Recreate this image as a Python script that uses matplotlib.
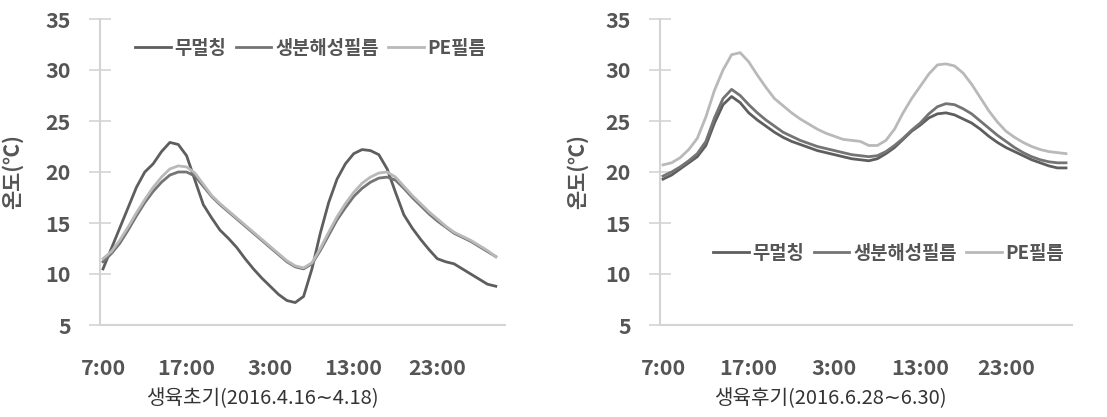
import numpy as np
import matplotlib
matplotlib.use('Agg')
import matplotlib.pyplot as plt

# --- Configuration ---
plt.rcParams['font.family'] = ['Noto Sans CJK KR', 'DejaVu Sans']

# --- Data (hourly, 48 h starting 7:00) ---
tick_labels = ['7:00', '17:00', '3:00', '13:00', '23:00']
series_names = ['무멀칭', '생분해성필름', 'PE필름']

early_bare = [10.5, 12.5, 14.5, 16.5, 18.5, 20.0, 20.8, 22.0, 22.9, 22.7,
              21.6, 19.2, 16.8, 15.5, 14.3, 13.5, 12.6, 11.5, 10.5, 9.6,
              8.8, 8.0, 7.4, 7.2, 7.8, 10.5, 14.0, 17.0, 19.3, 20.8,
              21.8, 22.2, 22.1, 21.7, 20.3, 18.0, 15.8, 14.5, 13.4, 12.4,
              11.5, 11.2, 11.0, 10.5, 10.0, 9.5, 9.0, 8.8]
early_bio = [11.2, 12.0, 13.0, 14.3, 15.7, 17.0, 18.1, 19.0, 19.7, 20.0,
             20.0, 19.6, 18.6, 17.6, 16.8, 16.1, 15.4, 14.7, 14.0, 13.3,
             12.6, 11.9, 11.2, 10.7, 10.5, 11.0, 12.3, 13.8, 15.3, 16.5,
             17.6, 18.4, 19.0, 19.4, 19.5, 19.2, 18.4, 17.5, 16.7, 15.9,
             15.2, 14.6, 14.0, 13.6, 13.2, 12.7, 12.2, 11.7]
early_pe = [11.5, 12.2, 13.3, 14.6, 16.0, 17.3, 18.5, 19.5, 20.3, 20.6,
            20.5, 19.9, 18.8, 17.7, 16.9, 16.2, 15.5, 14.8, 14.1, 13.4,
            12.7, 12.0, 11.3, 10.8, 10.6, 11.1, 12.5, 14.1, 15.6, 16.9,
            18.0, 18.9, 19.5, 19.9, 20.0, 19.5, 18.6, 17.7, 16.9, 16.1,
            15.4, 14.7, 14.1, 13.7, 13.3, 12.8, 12.3, 11.7]

late_bare = [19.3, 19.7, 20.3, 20.9, 21.5, 22.6, 24.8, 26.6, 27.4, 26.8,
             25.8, 25.1, 24.5, 23.9, 23.4, 23.0, 22.7, 22.4, 22.1, 21.9,
             21.7, 21.5, 21.3, 21.2, 21.1, 21.3, 21.8, 22.4, 23.2, 24.0,
             24.6, 25.3, 25.7, 25.8, 25.6, 25.2, 24.8, 24.2, 23.5, 22.9,
             22.4, 22.0, 21.6, 21.2, 20.9, 20.6, 20.4, 20.4]
late_bio = [19.6, 20.0, 20.5, 21.1, 21.8, 23.0, 25.3, 27.2, 28.1, 27.5,
            26.6, 25.8, 25.1, 24.5, 23.9, 23.5, 23.1, 22.8, 22.5, 22.3,
            22.1, 21.9, 21.7, 21.6, 21.5, 21.6, 22.0, 22.6, 23.3, 24.1,
            24.8, 25.7, 26.4, 26.7, 26.6, 26.2, 25.7, 25.0, 24.3, 23.6,
            23.0, 22.4, 21.9, 21.5, 21.2, 21.0, 20.9, 20.9]
late_pe = [20.7, 20.9, 21.4, 22.2, 23.3, 25.4, 28.0, 30.0, 31.5, 31.7,
           30.8, 29.5, 28.3, 27.2, 26.5, 25.8, 25.2, 24.7, 24.2, 23.8,
           23.5, 23.2, 23.1, 23.0, 22.6, 22.6, 23.1, 24.2, 25.8, 27.2,
           28.4, 29.6, 30.5, 30.6, 30.4, 29.7, 28.6, 27.3, 26.0, 24.9,
           24.0, 23.4, 22.9, 22.5, 22.2, 22.0, 21.9, 21.8]

colors = ['#5e5e5e', '#747474', '#b9b9b9']
text_col = '#555555'
axis_col = '#d4d4d4'

fig = plt.figure(figsize=(11.07, 4.17), dpi=100)
ax1 = fig.add_axes([100 / 1107, 92 / 417, 405 / 1107, 306 / 417])
ax2 = fig.add_axes([660 / 1107, 92 / 417, 412 / 1107, 306 / 417])

panels = [
    (ax1, [early_bare, early_bio, early_pe], '생육초기(2016.4.16∼4.18)', 0.40,
     (0.52, 0.905), (-0.36, 48.1), -0.19),
    (ax2, [late_bare, late_bio, late_pe], '생육후기(2016.6.28∼6.30)', 0.413,
     (0.555, 0.235), (-0.35, 47.7), -0.175),
]

for ax, data, xlabel, xl_pos, leg_pos, xlim, yl_pos in panels:
    hours = np.arange(len(data[0]))
    for vals, name, c in zip(data, series_names, colors):
        ax.plot(hours, vals, color=c, lw=2.0, label=name)

    ax.set_xlim(*xlim)
    ax.set_ylim(5, 35)
    ax.set_yticks(np.arange(5, 36, 5))
    ax.set_xticks(np.arange(0, 41, 10))
    ax.set_xticklabels(tick_labels)

    for side in ['top', 'right']:
        ax.spines[side].set_visible(False)
    for side in ['left', 'bottom']:
        ax.spines[side].set_color(axis_col)
        ax.spines[side].set_linewidth(1.5)

    ax.tick_params(axis='y', direction='inout', length=16, width=1.2,
                   color=axis_col, labelcolor=text_col, labelsize=15.5, pad=13)
    ax.tick_params(axis='x', length=0, labelcolor=text_col, labelsize=15.5, pad=24)
    for lab in ax.get_xticklabels() + ax.get_yticklabels():
        lab.set_fontweight('bold')

    ax.set_ylabel('온도(℃)', fontsize=15, color=text_col, fontweight='bold')
    ax.yaxis.set_label_coords(yl_pos, 0.5)
    ax.set_xlabel(xlabel, fontsize=14.5, color='#333333', x=xl_pos)
    ax.xaxis.set_label_coords(xl_pos, -0.205)

    ax.legend(loc='center', bbox_to_anchor=leg_pos, ncol=3, frameon=False,
              prop={'size': 13.5, 'weight': 'bold'}, handlelength=1.9,
              handletextpad=0.2, columnspacing=0.5, labelcolor=text_col)

fig.savefig('out.png', dpi=100)
